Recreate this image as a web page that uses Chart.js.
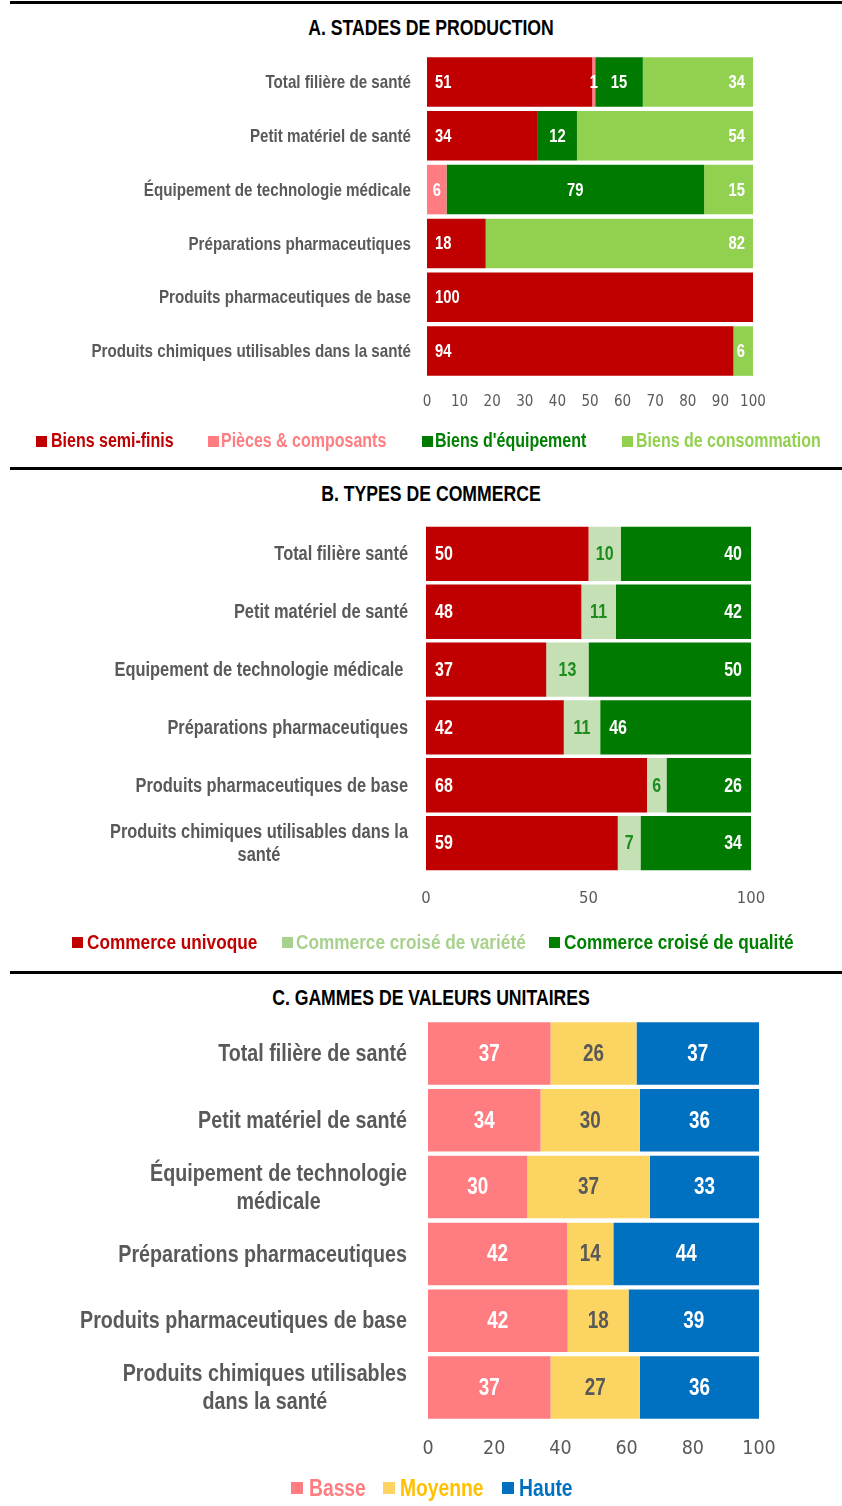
<!DOCTYPE html>
<html><head><meta charset="utf-8">
<script src="https://cdn.jsdelivr.net/npm/chart.js@4.4.0/dist/chart.umd.min.js"></script>
<style>
body{margin:0;width:842px;height:1506px;background:#fff;position:relative;overflow:hidden;font-family:"Liberation Sans",Arial,sans-serif;}
.rule{position:absolute;left:10px;width:832px;height:3px;background:#000;}
.title{position:absolute;left:0;width:862px;text-align:center;font-weight:bold;font-size:21.5px;line-height:22px;color:#000;transform:scaleX(0.82);transform-origin:431px 50%;}
.sq{position:absolute;}
.lt{position:absolute;font-weight:bold;white-space:nowrap;transform:scaleX(0.82);transform-origin:0 50%;}
.cw{position:absolute;left:0;}
</style></head>
<body>
<div class="rule" style="top:1px"></div>
<div class="title" style="top:17px">A. STADES DE PRODUCTION</div>
<div class="cw" style="top:0px"><canvas id="cA" width="842" height="430"></canvas></div>
<div class="rule" style="top:467px"></div>
<div class="title" style="top:483px">B. TYPES DE COMMERCE</div>
<div class="cw" style="top:475px"><canvas id="cB" width="842" height="460"></canvas></div>
<div class="rule" style="top:971px"></div>
<div class="title" style="top:987px">C. GAMMES DE VALEURS UNITAIRES</div>
<div class="cw" style="top:980px"><canvas id="cC" width="842" height="510"></canvas></div>
<script>
// ---------- DATA ----------
const categoriesA = ["Total filière de santé","Petit matériel de santé","Équipement de technologie médicale","Préparations pharmaceutiques","Produits pharmaceutiques de base","Produits chimiques utilisables dans la santé"];
const seriesA = ["Biens semi-finis","Pièces & composants","Biens d'équipement","Biens de consommation"];
const biensSemiFinis      = [50.7, 34, 0, 18, 100, 94];
const piecesComposants    = [0.9, 0, 6, 0, 0, 0];
const biensEquipement     = [14.6, 12, 79, 0, 0, 0];
const biensConsommation   = [33.8, 54, 15, 82, 0, 6];
const ticksA = [0,10,20,30,40,50,60,70,80,90,100];

const categoriesB = ["Total filière santé","Petit matériel de santé","Equipement de technologie médicale ","Préparations pharmaceutiques","Produits pharmaceutiques de base",["Produits chimiques utilisables dans la","santé"]];
const seriesB = ["Commerce univoque","Commerce croisé de variété","Commerce croisé de qualité"];
const commerceUnivoque = [50, 47.8, 37, 42.4, 68, 59];
const croiseVariete    = [10, 10.6, 13, 11.2, 6, 7];
const croiseQualite    = [40, 41.6, 50, 46.4, 26, 34];
const ticksB = [0,50,100];

const categoriesC = ["Total filière de santé","Petit matériel de santé",["Équipement de technologie","médicale"],"Préparations pharmaceutiques","Produits pharmaceutiques de base",["Produits chimiques utilisables","dans la santé"]];
const seriesC = ["Basse","Moyenne","Haute"];
const gammeBasse   = [37, 34, 30, 42, 42.2, 37];
const gammeMoyenne = [26, 30, 37, 14, 18.4, 27];
const gammeHaute   = [37, 36, 33, 44, 39.4, 36];
const ticksC = [0,20,40,60,80,100];

// ---------- STYLE ----------
const FF = '"Liberation Sans",Arial,sans-serif';
const TF = '"DejaVu Sans Condensed","DejaVu Sans",sans-serif';
const GRAY = '#595959';
const SX = 0.82;

function narrowText(ctx, text, x, y, align){
  ctx.save(); ctx.translate(x, y); ctx.scale(SX, 1);
  ctx.textAlign = align; ctx.fillText(text, 0, 0); ctx.restore();
}

const labelsPlugin = {
  id:'customLabels',
  afterDatasetsDraw(chart, args, o){
    const ctx = chart.ctx;
    ctx.save();
    ctx.textBaseline = 'middle';
    ctx.font = 'bold ' + o.valueSize + 'px ' + FF;
    chart.data.datasets.forEach((ds, di) => {
      const meta = chart.getDatasetMeta(di);
      meta.data.forEach((bar, i) => {
        const v = ds.data[i];
        if (!v || v < 0.5) return;
        const p = bar.getProps(['x','y','base'], true);
        let al = o.align[di];
        (o.overrides||[]).forEach(ov => { if (ov.d===di && ov.i===i) al = ov.align; });
        let tx, ta;
        if (al==='start'){ tx = p.base + o.pad; ta='left'; }
        else if (al==='end'){ tx = p.x - o.pad; ta='right'; }
        else { tx = (p.x + p.base)/2; ta='center'; }
        ctx.fillStyle = o.valueColors[di];
        narrowText(ctx, String(Math.round(v)), tx, p.y + 1, ta);
      });
    });
    const ys = chart.scales.y;
    ctx.font = 'bold ' + o.catSize + 'px ' + FF;
    ctx.fillStyle = GRAY;
    chart.data.labels.forEach((lab, i) => {
      const lines = Array.isArray(lab) ? lab : [lab];
      const yc = ys.getPixelForValue(i);
      const w = Math.max(...lines.map(l => ctx.measureText(l).width * SX));
      const cx = o.catRight - w/2;
      lines.forEach((l, k) => narrowText(ctx, l, cx, yc + 1 + (k - (lines.length-1)/2) * o.catLine, 'center'));
    });
    ctx.restore();
  }
};

function makeChart(id, cats, sets, colors, ticks, geo, lab){
  new Chart(document.getElementById(id), {
    type:'bar',
    data:{ labels:cats, datasets: sets.map((s,k)=>({label:s.label, data:s.data, backgroundColor:colors[k], borderWidth:0, barPercentage:geo.barPct, categoryPercentage:1})) },
    options:{
      indexAxis:'y', responsive:false, animation:false, devicePixelRatio:1,
      layout:{padding:geo.pad},
      plugins:{legend:{display:false}, title:{display:false}, tooltip:{enabled:false}, customLabels:lab},
      scales:{
        x:{stacked:true, min:0, max:100,
           afterBuildTicks(s){ s.ticks = ticks.map(v=>({value:v})); },
           ticks:{color:GRAY, font:{family:TF, size:geo.tickSize}, padding:geo.tickPad, maxRotation:0, autoSkip:false},
           grid:{display:false, drawTicks:false}, border:{display:false},
           afterFit(s){ s.height = 50; } },
        y:{stacked:true, display:false}
      }
    },
    plugins:[labelsPlugin]
  });
}

const colA = ['#C00000','#FF7C80','#007A00','#92D050'];
makeChart('cA', categoriesA, [
  {label:seriesA[0], data:biensSemiFinis},{label:seriesA[1], data:piecesComposants},
  {label:seriesA[2], data:biensEquipement},{label:seriesA[3], data:biensConsommation}],
  colA, ticksA,
  {pad:{left:427, right:89, top:55, bottom:2}, barPct:0.92, tickSize:15, tickPad:15},
  {valueSize:18, pad:8, align:['start','center','center','end'], valueColors:['#fff','#fff','#fff','#fff'], catSize:18.5, catRight:411, catLine:22});

const colB = ['#C00000','#C5E0B4','#007A00'];
makeChart('cB', categoriesB, [
  {label:seriesB[0], data:commerceUnivoque},{label:seriesB[1], data:croiseVariete},{label:seriesB[2], data:croiseQualite}],
  colB, ticksB,
  {pad:{left:426, right:91, top:50, bottom:13}, barPct:0.94, tickSize:16.5, tickPad:17},
  {valueSize:19.5, pad:9, align:['start','center','end'], overrides:[{d:2,i:3,align:'start'}], valueColors:['#fff','#1E8C1E','#fff'], catSize:20, catRight:408, catLine:23});

const colC = ['#FF7C80','#FCD462','#0070C0'];
makeChart('cC', categoriesC, [
  {label:seriesC[0], data:gammeBasse},{label:seriesC[1], data:gammeMoyenne},{label:seriesC[2], data:gammeHaute}],
  colC, ticksC,
  {pad:{left:428, right:83, top:40, bottom:19}, barPct:0.935, tickSize:19.5, tickPad:16},
  {valueSize:23, pad:8, align:['center','center','center'], valueColors:['#fff','#595959','#fff'], catSize:24, catRight:407, catLine:28});

// ---------- LEGENDS ----------
function legend(names, sqCol, txtCol, sqX, txtX, yc, size, sq){
  names.forEach((n,k)=>{
    const s = document.createElement('div'); s.className='sq';
    s.style.cssText += `left:${sqX[k]}px;top:${yc - sq/2}px;width:${sq}px;height:${sq}px;background:${sqCol[k]}`;
    document.body.appendChild(s);
    const t = document.createElement('div'); t.className='lt';
    t.style.cssText += `left:${txtX[k]}px;top:${yc - size*0.6}px;font-size:${size}px;line-height:${size*1.2}px;color:${txtCol[k]}`;
    t.textContent = n;
    document.body.appendChild(t);
  });
}
legend(seriesA, colA, ['#C00000','#FF7C80','#008000','#92D050'], [36,208,422,622], [51,221,435,636], 441, 19.5, 11);
legend(seriesB, ['#C00000','#A9D18E','#008000'], ['#C00000','#A9D18E','#008000'], [72,282,549], [87,296,564], 942, 21, 11);
legend(seriesC, colC, ['#FF7C80','#FFC000','#0070C0'], [291,383,502], [309,400,519], 1488, 23.5, 12);
</script>
</body></html>
